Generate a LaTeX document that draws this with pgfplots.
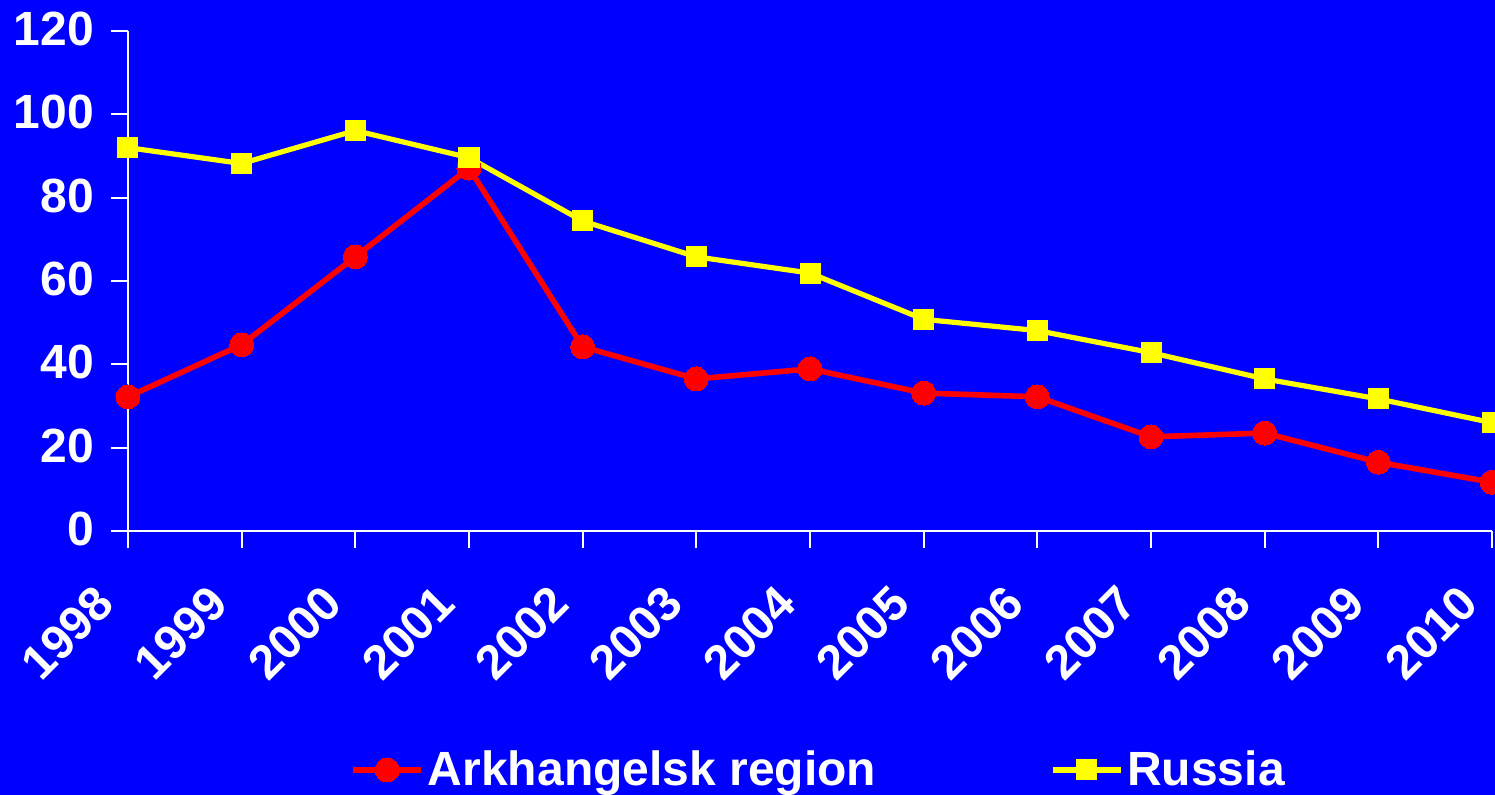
\documentclass[border=0pt]{standalone}
\usepackage{fontspec}
\setmainfont{Liberation Sans}
\usepackage{pgfplots}
\pgfplotsset{compat=1.18}
\definecolor{bg}{RGB}{0,0,255}
\definecolor{ared}{RGB}{255,0,0}
\definecolor{ayel}{RGB}{255,255,0}
\begin{document}
\begin{tikzpicture}
\fill[bg] (-64pt,-132pt) rectangle (683.5pt,265.5pt);
\begin{axis}[
  at={(0,0)}, anchor=south west,
  scale only axis, width=682pt, height=250pt,
  xmin=0, xmax=12, ymin=0, ymax=120,
  axis x line*=bottom, axis y line*=left,
  axis line style={white, line width=1pt, -},
  xtick={0,...,12},
  xticklabels={1998,1999,2000,2001,2002,2003,2004,2005,2006,2007,2008,2009,2010},
  ytick={0,20,...,120},
  tick style={white, line width=1pt},
  major tick length=8.5pt,
  tick align=outside,
  /pgf/number format/assume math mode=true,
  ticklabel style={text=white, font=\fontsize{24}{26}\selectfont\bfseries},
  yticklabel style={xshift=-5pt, yshift=1pt},
  xticklabel style={xshift=-9pt, yshift=-21pt, rotate=45, anchor=east},
  clip=false,
  legend columns=2,
  legend style={at={(axis description cs:0.507,-0.478)}, anchor=center,
    draw=none, fill=none, text=white, font=\fontsize{24}{26}\selectfont\bfseries,
    /tikz/every even column/.append style={column sep=85pt}},
  legend image code/.code={\draw[mark repeat=2,mark phase=2,#1] plot coordinates {(0pt,0pt) (17pt,0pt) (34pt,0pt)};},
]
\addplot[ared, line width=2.8pt, mark=*, mark size=6pt, mark options={solid, fill=ared, draw=ared, line width=0pt}]
coordinates {(0,32.2) (1,44.7) (2,65.8) (3,87.1) (4,44.2) (5,36.5) (6,38.9) (7,33.1) (8,32.2) (9,22.6) (10,23.5) (11,16.5) (12,11.7)};
\addlegendentry{Arkhangelsk region}
\addplot[ayel, line width=2.6pt, mark=square*, mark size=5pt, mark options={solid, fill=ayel, draw=ayel, line width=0pt}]
coordinates {(0,92.0) (1,88.2) (2,96.1) (3,89.6) (4,74.4) (5,65.8) (6,61.9) (7,50.8) (8,48.1) (9,42.8) (10,36.5) (11,31.7) (12,26.0)};
\addlegendentry{Russia}
\end{axis}
\pgfresetboundingbox
\path[use as bounding box] (-64pt,-132pt) rectangle (683.5pt,265.5pt);
\end{tikzpicture}
\end{document}
